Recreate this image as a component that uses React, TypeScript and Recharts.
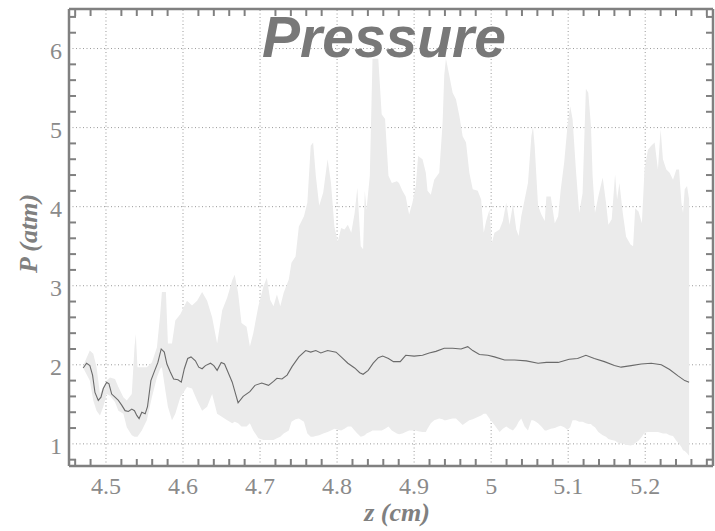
import React from 'react';
import { ComposedChart, Area, Line, XAxis, YAxis, ReferenceLine } from 'recharts';

// axis ranges and ticks
const zDomain: [number, number] = [4.452, 5.288];
const pDomain: [number, number] = [0.72, 6.5];
const zMajor = [4.5, 4.6, 4.7, 4.8, 4.9, 5, 5.1, 5.2];
const pMajor = [1, 2, 3, 4, 5, 6];
const zMinor = [4.46, 4.48, 4.52, 4.54, 4.56, 4.58, 4.62, 4.64, 4.66, 4.68, 4.72, 4.74, 4.76, 4.78,
  4.82, 4.84, 4.86, 4.88, 4.92, 4.94, 4.96, 4.98, 5.02, 5.04, 5.06, 5.08, 5.12, 5.14, 5.16, 5.18,
  5.22, 5.24, 5.26, 5.28];
const pMinor = [0.8, 1.2, 1.4, 1.6, 1.8, 2.2, 2.4, 2.6, 2.8, 3.2, 3.4, 3.6, 3.8, 4.2, 4.4, 4.6, 4.8,
  5.2, 5.4, 5.6, 5.8, 6.2, 6.4];

// min / max envelope of the pressure
const bandZ = [4.471, 4.479, 4.4835, 4.4878, 4.4922, 4.4965, 4.5009, 4.5052, 4.5117, 4.5161, 4.5226, 4.527,
  4.5335, 4.537, 4.5387, 4.5409, 4.5465, 4.553, 4.5596, 4.5661, 4.5704, 4.5726, 4.5778, 4.5804, 4.5857,
  4.59, 4.5965, 4.6052, 4.6117, 4.6183, 4.6248, 4.6313, 4.6378, 4.6443, 4.6509, 4.6574, 4.6639, 4.6671,
  4.6715, 4.6759, 4.6825, 4.6868, 4.6912, 4.6978, 4.7044, 4.7088, 4.7132, 4.7175, 4.7219, 4.7263, 4.7307,
  4.7373, 4.7408, 4.7461, 4.7504, 4.757, 4.7614, 4.7658, 4.7689, 4.7724, 4.7768, 4.782, 4.7877, 4.7921,
  4.7965, 4.8009, 4.8053, 4.8096, 4.814, 4.8184, 4.8228, 4.8263, 4.8307, 4.8338, 4.836, 4.8382, 4.8425,
  4.846, 4.8535, 4.8579, 4.8623, 4.8667, 4.8711, 4.8776, 4.8804, 4.8848, 4.8891, 4.8935, 4.8978, 4.9022,
  4.9052, 4.9109, 4.9152, 4.9174, 4.9217, 4.9261, 4.9326, 4.937, 4.9391, 4.9413, 4.9457, 4.95, 4.9543,
  4.9587, 4.963, 4.9674, 4.9717, 4.9761, 4.9826, 4.987, 4.9904, 4.9935, 4.9978, 5.0009, 5.0043, 5.0109,
  5.0152, 5.0196, 5.0239, 5.0283, 5.0326, 5.0357, 5.0391, 5.0435, 5.0478, 5.0522, 5.0543, 5.0565, 5.0609,
  5.0652, 5.0696, 5.0717, 5.0774, 5.0826, 5.087, 5.0904, 5.0948, 5.0991, 5.1026, 5.1057, 5.11, 5.1143,
  5.1187, 5.123, 5.1261, 5.1296, 5.1317, 5.1348, 5.1391, 5.1448, 5.1491, 5.1522, 5.1565, 5.1609, 5.1635,
  5.1665, 5.1709, 5.1752, 5.1809, 5.1843, 5.187, 5.1913, 5.1957, 5.1991, 5.2035, 5.2078, 5.2122, 5.2165,
  5.22, 5.223, 5.2274, 5.2317, 5.2361, 5.2404, 5.2439, 5.247, 5.2491, 5.2513, 5.2543, 5.257];
const bandHi = [2.0, 2.18, 2.14, 1.97, 1.63, 1.72, 1.8, 1.84, 1.82, 1.72, 1.59, 1.55,
  1.63, 2.22, 2.39, 1.97, 1.97, 1.97, 2.03, 2.22, 2.64, 2.92, 2.92, 2.27, 2.27,
  2.56, 2.64, 2.81, 2.75, 2.81, 2.92, 2.81, 2.6, 2.27, 2.69, 2.85, 3.07, 3.14,
  2.91, 2.53, 2.48, 2.23, 2.4, 2.74, 2.99, 3.1, 2.82, 2.74, 2.89, 2.74, 2.91,
  3.08, 3.29, 3.37, 3.75, 3.88, 4.05, 4.77, 4.81, 4.39, 4.01, 4.18, 4.6, 4.3,
  3.75, 3.56, 3.73, 3.71, 3.77, 3.67, 3.92, 4.24, 3.5, 3.46, 4.2, 3.96, 4.39,
  5.87, 5.87, 5.17, 5.11, 4.39, 4.3, 4.32, 4.3, 4.2, 4.13, 3.9, 4.05, 4.26,
  4.64, 4.6, 4.43, 4.2, 4.15, 4.34, 4.43, 5.06, 5.66, 5.87, 5.66, 5.44, 5.36,
  5.15, 4.89, 4.81, 4.43, 4.22, 4.2, 4.09, 3.67, 3.82, 3.96, 3.54, 3.67, 3.71,
  3.82, 4.05, 3.77, 4.03, 3.71, 3.63, 3.88, 4.09, 4.3, 4.89, 5.01, 4.77, 4.01,
  3.9, 3.82, 4.13, 4.13, 3.79, 3.88, 4.22, 4.56, 5.02, 5.27, 5.11, 4.47, 3.92,
  4.17, 5.49, 5.44, 5.02, 4.39, 3.92, 4.13, 4.37, 4.05, 3.77, 3.84, 4.41, 4.09,
  4.3, 3.92, 3.62, 3.52, 3.5, 3.98, 3.94, 3.79, 4.47, 4.72, 4.77, 4.81, 4.47,
  4.98, 4.6, 4.47, 4.43, 4.34, 4.47, 4.47, 4.05, 3.92, 4.22, 4.26, 4.09];
const bandLo = [1.95, 1.8, 1.55, 1.42, 1.36, 1.47, 1.63, 1.61, 1.53, 1.42, 1.38, 1.21,
  1.11, 1.09, 1.09, 1.09, 1.17, 1.3, 1.59, 1.84, 1.95, 1.97, 1.63, 1.47, 1.3,
  1.38, 1.59, 1.72, 1.7, 1.55, 1.42, 1.47, 1.63, 1.38, 1.34, 1.3, 1.26, 1.28,
  1.26, 1.22, 1.22, 1.26, 1.17, 1.07, 1.05, 1.05, 1.05, 1.05, 1.07, 1.09, 1.13,
  1.17, 1.28, 1.31, 1.32, 1.28, 1.13, 1.09, 1.09, 1.1, 1.11, 1.13, 1.15, 1.17,
  1.19, 1.18, 1.17, 1.19, 1.22, 1.22, 1.17, 1.13, 1.09, 1.1, 1.11, 1.13, 1.15,
  1.17, 1.17, 1.17, 1.19, 1.22, 1.17, 1.13, 1.12, 1.13, 1.15, 1.17, 1.17, 1.17,
  1.16, 1.15, 1.15, 1.19, 1.26, 1.3, 1.32, 1.31, 1.3, 1.3, 1.31, 1.32, 1.32,
  1.28, 1.24, 1.27, 1.3, 1.31, 1.34, 1.36, 1.38, 1.38, 1.32, 1.28, 1.24, 1.15,
  1.19, 1.22, 1.19, 1.17, 1.22, 1.28, 1.32, 1.22, 1.17, 1.3, 1.3, 1.29, 1.26,
  1.22, 1.17, 1.17, 1.19, 1.2, 1.22, 1.23, 1.21, 1.18, 1.21, 1.3, 1.3, 1.28,
  1.28, 1.26, 1.25, 1.25, 1.23, 1.21, 1.15, 1.11, 1.09, 1.06, 1.05, 1.04, 1.02,
  1.01, 1.0, 0.99, 0.98, 0.99, 1.01, 1.04, 1.09, 1.14, 1.15, 1.15, 1.15, 1.15,
  1.14, 1.13, 1.13, 1.11, 1.1, 1.04, 1.0, 0.96, 0.92, 0.91, 0.88, 0.85];

// mean pressure
const meanZ = [4.4704, 4.4748, 4.4791, 4.4826, 4.4857, 4.49, 4.4935, 4.4965, 4.5009, 4.5039, 4.5074,
  4.5117, 4.5161, 4.5204, 4.5248, 4.5291, 4.5335, 4.537, 4.54, 4.543, 4.5465, 4.5509, 4.5539, 4.5583,
  4.5626, 4.5674, 4.5717, 4.5757, 4.5791, 4.5835, 4.5878, 4.5935, 4.5978, 4.6017, 4.6061, 4.6104,
  4.6161, 4.6204, 4.6248, 4.6291, 4.6357, 4.64, 4.6443, 4.6496, 4.6539, 4.6583, 4.6639, 4.6683,
  4.6715, 4.6781, 4.6868, 4.6934, 4.7022, 4.711, 4.7175, 4.7219, 4.7285, 4.7351, 4.7417, 4.7504,
  4.7592, 4.7658, 4.7724, 4.7789, 4.7877, 4.7987, 4.8053, 4.814, 4.8228, 4.8294, 4.8338, 4.8404,
  4.8469, 4.8535, 4.8592, 4.8667, 4.8732, 4.882, 4.8891, 4.9, 4.9109, 4.9196, 4.9283, 4.9391, 4.95,
  4.9609, 4.9696, 4.9761, 4.9848, 4.9957, 5.0043, 5.0174, 5.0304, 5.0457, 5.0609, 5.0717, 5.087,
  5.1013, 5.1122, 5.123, 5.1339, 5.147, 5.16, 5.1687, 5.1817, 5.1948, 5.2078, 5.2209, 5.2317, 5.2426,
  5.2513, 5.257];
const meanP = [1.96, 2.02, 1.99, 1.87, 1.65, 1.55, 1.59, 1.7, 1.78, 1.76, 1.63,
  1.59, 1.55, 1.49, 1.42, 1.41, 1.44, 1.42, 1.36, 1.32, 1.4, 1.38, 1.47, 1.8,
  1.91, 2.03, 2.2, 2.16, 2.01, 1.91, 1.82, 1.81, 1.78, 1.95, 2.08, 2.1,
  2.05, 1.97, 1.95, 1.99, 2.02, 1.99, 1.93, 2.03, 2.01, 1.91, 1.78, 1.63,
  1.52, 1.6, 1.66, 1.74, 1.77, 1.74, 1.79, 1.83, 1.82, 1.87, 1.98, 2.1,
  2.18, 2.16, 2.18, 2.15, 2.18, 2.16, 2.1, 2.02, 1.96, 1.9, 1.88, 1.93,
  2.02, 2.09, 2.11, 2.08, 2.04, 2.04, 2.12, 2.11, 2.12, 2.15, 2.17, 2.21, 2.21,
  2.2, 2.23, 2.18, 2.13, 2.12, 2.1, 2.06, 2.06, 2.05, 2.02, 2.03, 2.03,
  2.07, 2.08, 2.12, 2.08, 2.04, 1.99, 1.97, 1.99, 2.01, 2.02, 2.0, 1.94, 1.86,
  1.8, 1.78];

const bandRows = bandZ.map((z, i) => ({ z, range: [bandLo[i], bandHi[i]] }));
const meanRows = meanZ.map((z, i) => ({ z, p: meanP[i] }));
const zTicks = [...zMajor, ...zMinor].sort((a, b) => a - b);
const pTicks = [...pMajor, ...pMinor].sort((a, b) => a - b);

const FRAME = '#808080';
const LABEL = '#8a8a8a';
const GRID = '#9a9a9a';
const serif = '"Liberation Serif", "DejaVu Serif", serif';
const isMajor = (list: number[], v: number) => list.some((m) => Math.abs(m - v) < 1e-6);

const BottomTick = ({ x, y, payload }: any) =>
  isMajor(zMajor, payload.value) ? (
    <text x={x} y={y + 28} textAnchor="middle" fontSize={24} fontFamily={serif} fill={LABEL}>
      {String(payload.value)}
    </text>
  ) : (
    <line x1={x} x2={x} y1={y} y2={y - 7} stroke={FRAME} strokeWidth={2} />
  );

const TopTick = ({ x, y, payload }: any) =>
  isMajor(zMajor, payload.value) ? <g /> : <line x1={x} x2={x} y1={y} y2={y + 7} stroke={FRAME} strokeWidth={2} />;

const LeftTick = ({ x, y, payload }: any) =>
  isMajor(pMajor, payload.value) ? (
    <text x={x - 7} y={y + 10} textAnchor="end" fontSize={24} fontFamily={serif} fill={LABEL}>
      {String(payload.value)}
    </text>
  ) : (
    <line x1={x} x2={x + 7} y1={y} y2={y} stroke={FRAME} strokeWidth={2} />
  );

const RightTick = ({ x, y, payload }: any) =>
  isMajor(pMajor, payload.value) ? <g /> : <line x1={x} x2={x - 7} y1={y} y2={y} stroke={FRAME} strokeWidth={2} />;

const axisLine = { stroke: FRAME, strokeWidth: 2.5 };

export default function App() {
  return (
    <div style={{ position: 'absolute', left: 0, top: 0, background: '#fff' }}>
      <ComposedChart width={715} height={531} margin={{ top: 0, right: 0, bottom: 0, left: 0 }}>
        <XAxis
          xAxisId="b"
          type="number"
          dataKey="z"
          domain={zDomain}
          allowDataOverflow
          ticks={zTicks}
          interval={0}
          height={65}
          tickSize={0}
          tickMargin={0}
          tickLine={false}
          axisLine={axisLine}
          tick={(p: any) => <BottomTick {...p} />}
          label={{
            content: ({ viewBox }: any) => (
              <text x={viewBox.x + viewBox.width / 2 + 6} y={viewBox.y + 55} textAnchor="middle"
                fontSize={26} fontFamily={serif} fontStyle="italic" fontWeight="bold" fill={FRAME}>
                z (cm)
              </text>
            ),
          }}
        />
        <XAxis
          xAxisId="t"
          orientation="top"
          type="number"
          dataKey="z"
          domain={zDomain}
          allowDataOverflow
          ticks={zTicks}
          interval={0}
          height={9}
          tickSize={0}
          tickMargin={0}
          tickLine={false}
          axisLine={axisLine}
          tick={(p: any) => <TopTick {...p} />}
          label={{
            content: ({ viewBox }: any) => (
              <text x={viewBox.x + viewBox.width / 2 - 7} y={57} textAnchor="middle" fontSize={57}
                fontFamily='"Liberation Sans", Arial, sans-serif' fontStyle="italic" fontWeight="bold" fill="#787878">
                Pressure
              </text>
            ),
          }}
        />
        <YAxis
          yAxisId="l"
          type="number"
          domain={pDomain}
          allowDataOverflow
          ticks={pTicks}
          interval={0}
          width={69}
          tickSize={0}
          tickMargin={0}
          tickLine={false}
          axisLine={axisLine}
          tick={(p: any) => <LeftTick {...p} />}
          label={{
            content: ({ viewBox }: any) => {
              const cx = 37;
              const cy = viewBox.y + viewBox.height / 2 - 4;
              return (
                <text x={cx} y={cy} transform={`rotate(-90 ${cx} ${cy})`} textAnchor="middle" fontSize={26}
                  fontFamily={serif} fontStyle="italic" fontWeight="bold" fill={FRAME}>
                  P (atm)
                </text>
              );
            },
          }}
        />
        <YAxis
          yAxisId="r"
          orientation="right"
          type="number"
          domain={pDomain}
          allowDataOverflow
          ticks={pTicks}
          interval={0}
          width={2}
          tickSize={0}
          tickMargin={0}
          tickLine={false}
          axisLine={axisLine}
          tick={(p: any) => <RightTick {...p} />}
        />

        {/* dotted grid at the major ticks, kept under the band */}
        {zMajor.map((v) => (
          <ReferenceLine key={`gx${v}`} xAxisId="b" yAxisId="l" x={v} stroke={GRID} strokeDasharray="1 2.5" zIndex={-50} />
        ))}
        {pMajor.map((v) => (
          <ReferenceLine key={`gy${v}`} xAxisId="b" yAxisId="l" y={v} stroke={GRID} strokeDasharray="1 2.5" zIndex={-50} />
        ))}

        <Area
          xAxisId="b"
          yAxisId="l"
          data={bandRows}
          dataKey="range"
          type="linear"
          stroke="none"
          fill="#ebebeb"
          fillOpacity={1}
          isAnimationActive={false}
        />
        <Line
          xAxisId="t"
          yAxisId="r"
          data={meanRows}
          dataKey="p"
          type="linear"
          stroke="#6a6a6a"
          strokeWidth={1.1}
          dot={false}
          isAnimationActive={false}
        />
      </ComposedChart>
    </div>
  );
}
